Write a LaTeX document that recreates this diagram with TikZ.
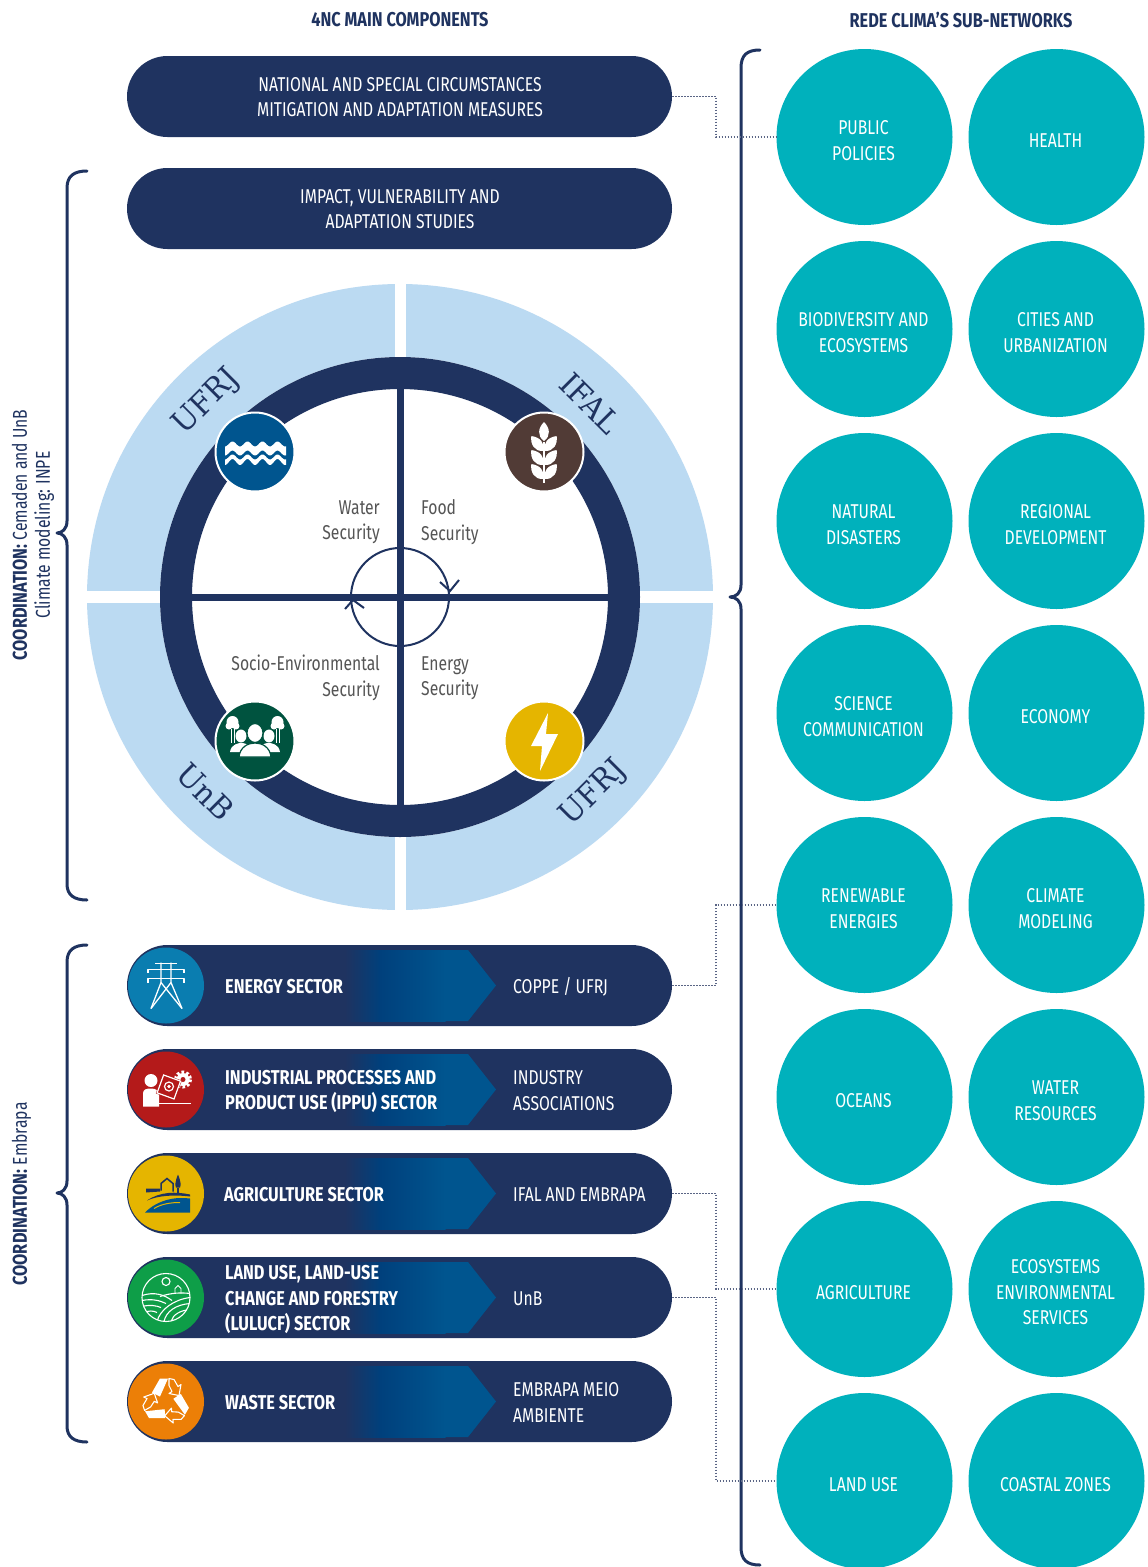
\documentclass[tikz,border=0pt]{standalone}
\usepackage{fontspec}
\usetikzlibrary{shapes.misc,calc}
\newfontfamily\cond[FakeStretch=0.785,BoldFeatures={FakeStretch=0.815}]{Fira Sans}
\newfontfamily\slab[FakeStretch=0.95]{DejaVu Serif}
\definecolor{navy}{HTML}{1F3360}
\definecolor{lightb}{HTML}{BBDAF2}
\definecolor{tealc}{HTML}{00B1BC}
\definecolor{waterb}{HTML}{00558F}
\definecolor{midb}{HTML}{00407C}
\definecolor{wheatb}{HTML}{513B36}
\definecolor{peopleg}{HTML}{00533F}
\definecolor{sunY}{HTML}{E5B500}
\definecolor{greytxt}{HTML}{555555}
\definecolor{dotc}{HTML}{5A6585}
\definecolor{energyb}{HTML}{0A7DB0}
\definecolor{indred}{HTML}{B41A1A}
\definecolor{landg}{HTML}{0E9E48}
\definecolor{wasteo}{HTML}{EC7F07}
\tikzset{
  x=1pt,y=-1pt,
  pill/.style={rounded rectangle,fill=navy,minimum width=545pt,minimum height=81pt,inner sep=0pt},
  teal/.style={circle,fill=tealc,minimum size=176pt,inner sep=0pt},
  pilltxt/.style={text=white,align=center,font=\cond\fontsize{20}{25.5}\selectfont,inner sep=0pt},
  sectxt/.style={text=white,align=left,anchor=west,font=\cond\bfseries\fontsize{20}{25.5}\selectfont,inner sep=0pt},
  orgtxt/.style={text=white,align=left,anchor=west,font=\cond\fontsize{20}{25.5}\selectfont,inner sep=0pt},
  head/.style={text=navy,font=\cond\bfseries\fontsize{20}{22}\selectfont,inner sep=0pt},
  sidetxt/.style={text=navy,rotate=90,align=center,font=\cond\fontsize{20}{23}\selectfont,inner sep=0pt},
  sectitle/.style={text=greytxt,font=\cond\fontsize{20}{25.5}\selectfont,inner sep=0pt},
  uni/.style={text=navy,font=\slab\fontsize{31}{33}\selectfont,inner sep=0pt},
  bracket/.style={draw=navy,line width=3pt,fill=none,line join=round,line cap=round},
  dotline/.style={draw=dotc,line width=1.2pt,dash pattern=on 1.5pt off 1.5pt},
  secicon/.style={circle,minimum size=76pt,inner sep=0pt},
  ringicon/.style={circle,draw=white,line width=2pt,minimum size=79pt,inner sep=0pt},
}
\newcommand{\sectorbar}[3]{%
  \begin{scope}[shift={(0,#2)}]
    \node[pill] (#1) at (399.5,40.5) {};
    \shade[left color=navy,right color=midb] (345,5) rectangle (380.5,76);
    \shade[left color=midb,right color=waterb] (380,5) rectangle (445.5,76);
    \fill[waterb] (445,5) -- (468,5) -- (496,40.5) -- (468,76) -- (445,76) -- cycle;
    \node[secicon,fill=#3] (#1icon) at (166,40.5) {};
  \end{scope}}
\newcommand{\wheatleaf}[3]{\fill[white,shift={(#1,#2)},rotate=#3] (0,0) .. controls (-7,-5) and (-6,-13) .. (0,-19) .. controls (6,-13) and (7,-5) .. (0,0) -- cycle;}
\newcommand{\tealnode}[4]{%
  \node[teal] (#1) at (#2,#3) {};
  \node[pilltxt] (#1t) at ($(#1.center)+(-1,3.5)$) {#4};}
\begin{document}
\begin{tikzpicture}
\useasboundingbox (0,0) rectangle (1148,1567);
\fill[white] (0,0) rectangle (1148,1567);

% headings
\node[head] (h1) at (400,20) {4NC MAIN COMPONENTS};
\node[head] (h2) at (961,20) {REDE CLIMA’S SUB-NETWORKS};

% top pills
\node[pill] (p1) at (399.5,96.5) {};
\node[pilltxt] (p1t) at (400,97) {NATIONAL AND SPECIAL CIRCUMSTANCES\\MITIGATION AND ADAPTATION MEASURES};
\node[pill] (p2) at (399.5,208.5) {};
\node[pilltxt] (p2t) at (400,209) {IMPACT, VULNERABILITY AND\\ADAPTATION STUDIES};

% big circle
\fill[lightb] (400,597) circle[radius=313];
\fill[white] (394.5,280) rectangle (405.5,915);
\fill[white] (80,591) rectangle (720,603);
\fill[white] (400,597) circle[radius=240];
\draw[navy,line width=32pt] (400,597) circle[radius=224];
\fill[navy] (396.5,360) rectangle (403.5,834);
\fill[navy] (164,593.5) rectangle (636,600.5);
\draw[navy,line width=2pt] (400,597) circle[radius=49];
\draw[navy,line width=2pt] (440,582) -- (450,591) -- (459,580);
\draw[navy,line width=2pt] (345,609) -- (353,600) -- (364,608);

\node[uni,rotate=45] (u1) at (207,402) {UFRJ};
\node[uni,rotate=-45] (u2) at (590,403) {IFAL};
\node[uni,rotate=-45] (u3) at (205,792) {UnB};
\node[uni,rotate=45] (u4) at (594,793) {UFRJ};

\node[sectitle,anchor=east,align=right] (q1) at (380,522) {Water\\Security};
\node[sectitle,anchor=west,align=left] (q2) at (421,522) {Food\\Security};
\node[sectitle,anchor=east,align=right] (q3) at (380,678) {Socio-Environmental\\Security};
\node[sectitle,anchor=west,align=left] (q4) at (421,678) {Energy\\Security};

% ring icons
\node[ringicon,fill=waterb] (iw) at (255,452) {};
\begin{scope}[shift={(iw.center)}]
  \fill[white] plot[domain=-30:31,samples=61] (\x,{-8+2.5*cos(\x*24)}) -- plot[domain=31:-30,samples=61] (\x,{1+2.5*cos(\x*24)}) -- cycle;
  \fill[white] plot[domain=-30:31,samples=61] (\x,{5+2.5*cos(\x*24)}) -- plot[domain=31:-30,samples=61] (\x,{10+3*cos(\x*24)}) -- cycle;
\end{scope}
\node[ringicon,fill=wheatb] (if) at (544,452) {};
\begin{scope}[shift={(if.center)}]
  \fill[white] (-0.8,-10) rectangle (0.8,31);
  \wheatleaf{0}{-11}{0}
  \wheatleaf{-1}{-1}{38}\wheatleaf{1}{-1}{-38}
  \wheatleaf{-1}{13}{38}\wheatleaf{1}{13}{-38}
  \wheatleaf{-1}{27}{38}\wheatleaf{1}{27}{-38}
\end{scope}
\node[ringicon,fill=peopleg] (ip) at (255,741) {};
\begin{scope}[shift={(ip.center)}]
  \foreach \s in {-1,1}{
    \fill[white] ({\s*22.5},-19) circle[radius=6];
    \fill[white] ({\s*19},-15) circle[radius=3.5];
    \fill[white] ({\s*26},-15) circle[radius=3.5];
    \draw[white,line width=0.9pt] ({\s*21},-12) -- ({\s*21},2);
    \draw[white,line width=0.9pt] ({\s*24},-12) -- ({\s*24},2);
    \fill[white] ({\s*14},-5) ellipse[x radius=5.5,y radius=6.5];
    \fill[white] ({\s*25},11) .. controls ({\s*24},3) and ({\s*16},2) .. ({\s*14},2) .. controls ({\s*10},2) and ({\s*5},3) .. ({\s*3},11) -- cycle;
  }
  \fill[white,draw=peopleg,line width=1.2pt] (0,-8) ellipse[x radius=8,y radius=9.5];
  \fill[white,draw=peopleg,line width=1.2pt] (-16,16) .. controls (-15,6) and (-7,2) .. (0,2) .. controls (7,2) and (15,6) .. (16,16) -- cycle;
\end{scope}
\node[ringicon,fill=sunY] (ie) at (544,741) {};
\fill[white,shift={(ie.center)}] (4,-28) -- (-13,5) -- (-2,5) -- (-4,30) -- (14,-7) -- (2,-7) -- cycle;

% sector bars
\sectorbar{s1}{945}{energyb}
\sectorbar{s2}{1049}{indred}
\sectorbar{s3}{1153}{sunY}
\sectorbar{s4}{1257}{landg}
\sectorbar{s5}{1361}{wasteo}

\node[sectxt] (s1t) at (225,987) {ENERGY SECTOR};
\node[orgtxt] (s1o) at (513,987) {COPPE / UFRJ};
\node[sectxt] (s2t) at (225,1091.5) {INDUSTRIAL PROCESSES AND\\PRODUCT USE (IPPU) SECTOR};
\node[orgtxt] (s2o) at (513,1090.5) {INDUSTRY\\ASSOCIATIONS};
\node[sectxt] (s3t) at (224,1195) {AGRICULTURE SECTOR};
\node[orgtxt] (s3o) at (513,1195) {IFAL AND EMBRAPA};
\node[sectxt] (s4t) at (225,1299.5) {LAND USE, LAND-USE\\CHANGE AND FORESTRY\\(LULUCF) SECTOR};
\node[orgtxt] (s4o) at (513,1299) {UnB};
\node[sectxt] (s5t) at (225,1403) {WASTE SECTOR};
\node[orgtxt] (s5o) at (513,1402.5) {EMBRAPA MEIO\\AMBIENTE};

% energy icon
\begin{scope}[shift={(s1icon.center)},white,line width=1.3pt,line join=round]
  \draw (-5,-23) -- (-5,-3) -- (-15,23);
  \draw (5,-23) -- (5,-3) -- (16,23);
  \draw (-5,-3) -- (16,23);
  \draw (5,-3) -- (-15,23);
  \draw (-11,-22) -- (11,-22);
  \draw (-18,-13) -- (-18,-16) -- (18,-16) -- (18,-13);
  \draw (-18,-3) -- (-18,-7) -- (18,-7) -- (18,-3);
\end{scope}
% industry icon
\begin{scope}[shift={(s2icon.center)}]
  \fill[white] (-15,-9) circle[radius=6.5];
  \fill[white] (-23,17) -- (-23,4) .. controls (-23,0) and (-20,-1) .. (-15,-1) .. controls (-10,-1) and (-8,1) .. (-7,4) -- (-7,17) -- cycle;
  \fill[white] (-7,13) rectangle (25,14.3);
  \draw[white,line width=3pt,dash pattern=on 2.6pt off 2.2pt] (17,-10) circle[radius=7.5];
  \fill[white] (17,-10) circle[radius=6.5];
  \fill[indred] (17,-10) circle[radius=2.5];
  \fill[indred,rotate around={-20:(3,-3)}] (-7,-13) rectangle (13,8);
  \draw[white,line width=1.2pt,rotate around={-20:(3,-3)}] (-6,-12) rectangle (12,7);
  \draw[white,line width=1.2pt] (3,-3) circle[radius=4.5];
  \fill[white] (3,-3) circle[radius=1.8];
\end{scope}
% agriculture icon
\begin{scope}[shift={(s3icon.center)}]
  \fill[navy] (-20,-5) -- (-6,-5) -- (-6,-2) -- (-20,-1) -- cycle;
  \draw[navy,line width=1.5pt] (-5,-3) -- (-5,-10) -- (1,-15) -- (7,-10) -- (7,-2);
  \fill[navy] (12,-19) .. controls (9,-12) and (9,-8) .. (10,-6) -- (14,-6) .. controls (15,-8) and (15,-12) .. (12,-19) -- cycle;
  \draw[navy,line width=1.2pt] (12,-6) -- (12,1);
  \fill[navy] (-19,7) .. controls (-6,-2) and (10,-2) .. (24,1) -- (24,3) .. controls (8,1) and (-8,2) .. (-19,7) -- cycle;
  \fill[waterb] (-21,19) .. controls (-8,6) and (10,3) .. (24,5) -- (24,19) -- cycle;
  \draw[sunY,line width=1pt] (-12,15) .. controls (-4,10) and (6,9) .. (14,9);
\end{scope}
% land use icon
\begin{scope}[shift={(s4icon.center)}]
  \draw[white,line width=1.1pt] (0,0) circle[radius=24];
  \draw[white,line width=1.1pt] (0,-16) circle[radius=4];
  \draw[white,line width=0.9pt] (9,-4) -- (9,-9) -- (12,-12) -- (15,-9) -- (15,-4);
  \begin{scope}
    \clip (0,0) circle[radius=24];
    \draw[white,line width=1.1pt] (-24,-2) .. controls (-12,-6) and (-2,-3) .. (6,3);
    \draw[white,line width=1.1pt] (-24,3) .. controls (-14,1) and (-6,3) .. (0,6);
    \draw[white,line width=1.1pt] (-24,9) .. controls (-16,7) and (-10,8) .. (-5,10);
    \draw[white,line width=1.1pt] (-22,15) .. controls (-17,13) and (-13,13) .. (-9,15);
    \draw[white,line width=1.1pt] (-6,-1) .. controls (6,-5) and (16,-5) .. (24,-4);
    \draw[white,line width=1.1pt] (-9,24) .. controls (-6,12) and (8,2) .. (24,0);
    \draw[white,line width=1.1pt] (-2,24) .. controls (0,14) and (10,7) .. (24,6);
    \draw[white,line width=1.1pt] (5,24) .. controls (7,17) and (14,13) .. (24,12);
  \end{scope}
\end{scope}
% waste icon
\begin{scope}[shift={(s5icon.center)}]
  \foreach \a in {0,120,240}{
    \begin{scope}[rotate=\a]
      \fill[white] (-14,-9) -- (-6,-23) -- (2,-23) -- (-6,-5) -- cycle;
      \draw[white,line width=1.1pt,line join=round] (3,-23) -- (8,-22) -- (12,-15) -- (15,-17) -- (13,-6) -- (3,-8) -- (6,-10) -- (3,-16) -- cycle;
    \end{scope}
  }
\end{scope}

% sub-network circles
\tealnode{c1}{864.5}{137}{PUBLIC\\POLICIES}
\tealnode{c2}{1056.5}{137}{HEALTH}
\tealnode{c3}{864.5}{329}{BIODIVERSITY AND\\ECOSYSTEMS}
\tealnode{c4}{1056.5}{329}{CITIES AND\\URBANIZATION}
\tealnode{c5}{864.5}{521}{NATURAL\\DISASTERS}
\tealnode{c6}{1056.5}{521}{REGIONAL\\DEVELOPMENT}
\tealnode{c7}{864.5}{713}{SCIENCE\\COMMUNICATION}
\tealnode{c8}{1056.5}{713}{ECONOMY}
\tealnode{c9}{864.5}{905}{RENEWABLE\\ENERGIES}
\tealnode{c10}{1056.5}{905}{CLIMATE\\MODELING}
\tealnode{c11}{864.5}{1097}{OCEANS}
\tealnode{c12}{1056.5}{1097}{WATER\\RESOURCES}
\tealnode{c13}{864.5}{1289}{AGRICULTURE}
\tealnode{c14}{1056.5}{1289}{ECOSYSTEMS\\ENVIRONMENTAL\\SERVICES}
\tealnode{c15}{864.5}{1481}{LAND USE}
\tealnode{c16}{1056.5}{1481}{COASTAL ZONES}

% brackets
\draw[bracket] (760,50) .. controls (747,50) and (741,55) .. (741,68) -- (741,585) .. controls (741,593) and (736,597) .. (730,597) .. controls (736,597) and (741,601) .. (741,609) -- (741,1547) .. controls (741,1560) and (747,1565) .. (760,1565);
\draw[bracket] (87,171) .. controls (74,171) and (67,176) .. (67,188) -- (67,521) .. controls (67,529) and (62,533) .. (57,533) .. controls (62,533) and (67,537) .. (67,545) -- (67,884) .. controls (67,895) and (74,900) .. (87,900);
\draw[bracket] (87,945) .. controls (74,945) and (67,950) .. (67,962) -- (67,1181) .. controls (67,1189) and (62,1193) .. (57,1193) .. controls (62,1193) and (67,1197) .. (67,1205) -- (67,1426) .. controls (67,1437) and (74,1442) .. (87,1442);

% side labels
\node[sidetxt] (l1) at (33,535) {{\bfseries COORDINATION:} Cemaden and UnB\\Climate modeling: INPE};
\node[sidetxt] (l2) at (21.5,1194) {{\bfseries COORDINATION:} Embrapa};

% dotted connectors
\coordinate (bus) at (716,0);
\draw[dotline] (p1.east) -- (p1.east -| bus) -- (c1.west -| bus) -- (c1.west);
\draw[dotline] (s1.east) -- (s1.east -| bus) -- (c9.west -| bus) -- (c9.west);
\draw[dotline] (s3.east) -- (s3.east -| bus) -- (c13.west -| bus) -- (c13.west);
\draw[dotline] (s4.east) -- (s4.east -| bus) -- (c15.west -| bus) -- (c15.west);
\end{tikzpicture}
\end{document}
